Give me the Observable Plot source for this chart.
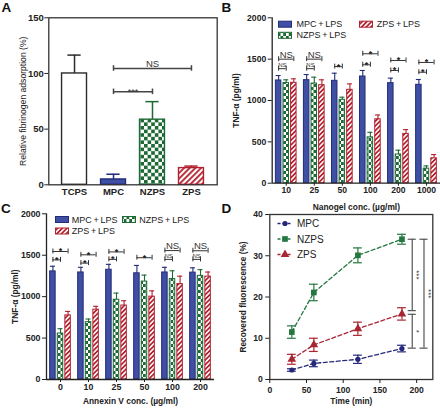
<!DOCTYPE html>
<html><head><meta charset="utf-8">
<script src="https://cdn.jsdelivr.net/npm/d3@7"></script>
<script src="https://cdn.jsdelivr.net/npm/@observablehq/plot@0.6"></script>
<style>
body{margin:0;background:#fff;}
#fig{position:relative;width:440px;height:409px;overflow:hidden;font-family:Arial,"Liberation Sans",sans-serif;background:#fff;}
</style></head><body>
<svg width="0" height="0" style="position:absolute;left:0;top:0"><defs>
<pattern id="checkA" patternUnits="userSpaceOnUse" width="7.2" height="7.2">
<rect width="7.2" height="7.2" fill="#fff"/><rect width="3.6" height="3.6" fill="#1d6a34"/><rect x="3.6" y="3.6" width="3.6" height="3.6" fill="#1d6a34"/>
</pattern>
<pattern id="checkS" patternUnits="userSpaceOnUse" width="5.5" height="6">
<rect width="5.5" height="6" fill="#fff"/><rect width="2.75" height="3" fill="#1d6a34"/><rect x="2.75" y="3" width="2.75" height="3" fill="#1d6a34"/>
</pattern>
<pattern id="hatchA" patternUnits="userSpaceOnUse" width="4" height="4" patternTransform="rotate(45)">
<rect width="4" height="4" fill="#fff"/><rect width="1.8" height="4" fill="#b3202f"/>
</pattern>
<pattern id="hatchS" patternUnits="userSpaceOnUse" width="3.3" height="3.3" patternTransform="rotate(45)">
<rect width="3.3" height="3.3" fill="#fff"/><rect width="1.7" height="3.3" fill="#b3202f"/>
</pattern>
</defs></svg>
<div id="fig"></div>
<script>
// ---------- Panel A data ----------
const aCats = ["TCPS", "MPC", "NZPS", "ZPS"];
const aMeans = [100, 4.8, 58.5, 15];
const aErrs = [16.5, 4.7, 16.2, 1.8];
const aTicks = [0, 50, 100, 150];
const aSig = [
  {from: "MPC", to: "ZPS", y: 104.5, label: "NS"},
  {from: "MPC", to: "NZPS", y: 83.5, label: "***"}
];
const aTitle = "Relative fibrinogen adsorption (%)";

// ---------- Panels B / C shared ----------
const series = ["MPC", "NZPS", "ZPS"];
const seriesLabels = ["MPC\u2009+\u2009LPS", "NZPS\u2009+\u2009LPS", "ZPS\u2009+\u2009LPS"];
const tnfTicks = [0, 500, 1000, 1500, 2000];

// ---------- Panel B data ----------
const bConcs = ["10", "25", "50", "100", "200", "1000"];
const bMPC = [1242, 1246, 1238, 1290, 1210, 1190];
const bMPCerr = [60, 68, 92, 73, 60, 64];
const bNZPS = [1212, 1205, 1008, 554, 347, 176];
const bNZPSerr = [38, 77, 32, 61, 52, 33];
const bZPS = [1214, 1185, 1129, 773, 596, 301];
const bZPSerr = [48, 65, 72, 52, 52, 45];
const bSig = [
  {c: "10", from: "MPC", to: "ZPS", y: 1500, label: "NS"},
  {c: "10", from: "MPC", to: "NZPS", y: 1385, label: "NS"},
  {c: "25", from: "MPC", to: "ZPS", y: 1500, label: "NS"},
  {c: "25", from: "MPC", to: "NZPS", y: 1385, label: "NS"},
  {c: "50", from: "MPC", to: "NZPS", y: 1410, label: "*"},
  {c: "100", from: "MPC", to: "ZPS", y: 1565, label: "*"},
  {c: "100", from: "MPC", to: "NZPS", y: 1432, label: "*"},
  {c: "200", from: "MPC", to: "ZPS", y: 1484, label: "*"},
  {c: "200", from: "MPC", to: "NZPS", y: 1363, label: "*"},
  {c: "1000", from: "MPC", to: "ZPS", y: 1460, label: "*"},
  {c: "1000", from: "MPC", to: "NZPS", y: 1342, label: "*"}
];

// ---------- Panel C data ----------
const cConcs = ["0", "10", "25", "50", "100", "200"];
const cMPC = [1305, 1292, 1325, 1282, 1292, 1290];
const cMPCerr = [62, 62, 65, 95, 62, 58];
const cNZPS = [555, 692, 963, 1182, 1212, 1251];
const cNZPSerr = [58, 38, 80, 78, 100, 75];
const cZPS = [774, 843, 893, 1000, 1152, 1242];
const cZPSerr = [48, 40, 58, 70, 95, 55];
const cSig = [
  {c: "0", from: "MPC", to: "ZPS", y: 1545, label: "*"},
  {c: "0", from: "MPC", to: "NZPS", y: 1444, label: "*"},
  {c: "10", from: "MPC", to: "ZPS", y: 1505, label: "*"},
  {c: "10", from: "MPC", to: "NZPS", y: 1405, label: "*"},
  {c: "25", from: "MPC", to: "ZPS", y: 1540, label: "*"},
  {c: "25", from: "MPC", to: "NZPS", y: 1450, label: "*"},
  {c: "50", from: "MPC", to: "ZPS", y: 1470, label: "*"},
  {c: "100", from: "MPC", to: "ZPS", y: 1556, label: "NS"},
  {c: "100", from: "MPC", to: "NZPS", y: 1450, label: "NS"},
  {c: "200", from: "MPC", to: "ZPS", y: 1554, label: "NS"},
  {c: "200", from: "MPC", to: "NZPS", y: 1450, label: "NS"}
];

// ---------- Panel D data ----------
const dSeries = ["MPC", "NZPS", "ZPS"];
const dTimes = [30, 60, 120, 180];
const dMPC = [2.3, 3.9, 4.9, 7.5];
const dMPCerr = [0.3, 0.8, 1.0, 0.8];
const dNZPS = [11.5, 21.1, 30.1, 34.0];
const dNZPSerr = [1.5, 2.0, 1.8, 1.2];
const dZPS = [4.9, 8.4, 12.3, 15.9];
const dZPSerr = [1.2, 1.6, 1.6, 1.5];
const dXTicks = [0, 50, 100, 150, 200];
const dYTicks = [0, 10, 20, 30, 40];
const dSig = [
  {x: 194, y1: 16.7, y2: 34.0, label: "***"},
  {x: 210, y1: 7.6, y2: 34.0, label: "***"},
  {x: 194, y1: 7.6, y2: 15.8, label: "*"}
];

// ---------- styles ----------
const FONT = 'Arial, "Liberation Sans", sans-serif';
const BLUE = "#3f4fa3", BLUE_D = "#222c78", GREEN = "#1d6a34", RED = "#b3202f", DARK = "#2b2b2b";
const dColor = {MPC: "#25287a", NZPS: "#23773f", ZPS: "#a82532"};
const dSymbol = {MPC: "circle", NZPS: "square", ZPS: "triangle"};
const baseStyle = {fontFamily: FONT, fontSize: "9px", background: "transparent", overflow: "visible", color: "#222"};
const intFmt = d3.format("d");
const fig = document.getElementById("fig");
function place(svg, left, top) {
  svg.style.position = "absolute"; svg.style.left = left + "px"; svg.style.top = top + "px";
  svg.style.maxWidth = "none";
  fig.appendChild(svg);
}
function yTitle(text, dx, opts = {}) {
  return Plot.text([text], {text: d => d, frameAnchor: "left", textAnchor: "middle", lineAnchor: "middle", rotate: -90, dx, ...opts});
}
function xTitle(text, dy, opts = {}) {
  return Plot.text([text], {text: d => d, frameAnchor: "bottom", textAnchor: "middle", lineAnchor: "middle", dy, ...opts});
}

// ---------- Panel A ----------
const aFill = {TCPS: "#fff", MPC: BLUE, NZPS: "url(#checkA)", ZPS: "url(#hatchA)"};
const aStroke = {TCPS: DARK, MPC: BLUE_D, NZPS: GREEN, ZPS: RED};
const aRows = aCats.map((c, i) => ({c, i, v: aMeans[i], e: aErrs[i]}));
const aSigRows = aSig.map(d => ({...d, i1: aCats.indexOf(d.from), i2: aCats.indexOf(d.to)}));
const aEnds = aSigRows.flatMap(d => [{x: d.i1, y: d.y}, {x: d.i2, y: d.y}]);
place(Plot.plot({
  width: 220, height: 200,
  marginLeft: 48.3, marginRight: 3.3, marginTop: 17.3, marginBottom: 15.7,
  style: baseStyle,
  x: {domain: [-0.66, 3.66]},
  y: {domain: [0, 150]},
  color: {type: "identity"},
  marks: [
    Plot.rect(aRows, {x1: d => d.i - 0.32, x2: d => d.i + 0.32, y1: 0, y2: "v",
      fill: d => aFill[d.c], stroke: d => aStroke[d.c], strokeWidth: 1.4}),
    Plot.ruleX(aRows, {x: "i", y1: "v", y2: d => d.v + d.e, stroke: d => aStroke[d.c], strokeWidth: 1.5}),
    Plot.ruleY(aRows, {x1: d => d.i - 0.17, x2: d => d.i + 0.17, y: d => d.v + d.e, stroke: d => aStroke[d.c], strokeWidth: 1.5}),
    Plot.ruleY(aSigRows, {x1: "i1", x2: "i2", y: "y", stroke: "#444", strokeWidth: 1.5}),
    Plot.ruleX(aEnds, {x: "x", y1: d => d.y - 2.5, y2: d => d.y + 2.5, stroke: "#444", strokeWidth: 1.5}),
    Plot.text(aSigRows.filter(d => d.label !== "NS"), {x: d => (d.i1 + d.i2) / 2, y: "y", text: "label", lineAnchor: "bottom", dy: 3.3, fontSize: 9, fill: "#333"}),
    Plot.text(aSigRows.filter(d => d.label === "NS"), {x: d => (d.i1 + d.i2) / 2, y: "y", text: "label", lineAnchor: "bottom", dy: -1.2, fontSize: 9.5, fill: "#333"}),
    Plot.frame({stroke: "#333", strokeWidth: 1.3}),
    Plot.axisY({ticks: aTicks, tickFormat: intFmt, tickSize: 4, tickPadding: 1, fontWeight: "bold", fontSize: 9.5, label: null}),
    Plot.axisX({ticks: aCats.map((c, i) => i), tickFormat: i => aCats[i], tickSize: 0, tickPadding: 3, fontWeight: "bold", fontSize: 9.5, label: null}),
    yTitle(aTitle, -25.8, {fontSize: 8.6})
  ]
}), 0, 0);

// ---------- Panels B / C ----------
const OFF = 0.271, HW = 0.098, CAP = 0.09;
const sFill = {MPC: BLUE, NZPS: "url(#checkS)", ZPS: "url(#hatchS)"};
const sStroke = {MPC: BLUE_D, NZPS: GREEN, ZPS: RED};
function grouped({concs, vals, errs, sig, w, h, ml, mr, mt, mb, yTitleDx, xTitleText, xTitleDy, tickFs}) {
  const rows = [];
  concs.forEach((c, g) => series.forEach((s, si) => rows.push({g, s, si, v: vals[si][g], e: errs[si][g]})));
  const xc = d => d.g + (d.si - 1) * OFF;
  const sr = sig.map(d => {
    const g = concs.indexOf(d.c);
    return {...d, x1: g + (series.indexOf(d.from) - 1) * OFF, x2: g + (series.indexOf(d.to) - 1) * OFF};
  });
  const ends = sr.flatMap(d => [{x: d.x1, y: d.y}, {x: d.x2, y: d.y}]);
  const small = d => d.label === "NS" && d.to === "NZPS";
  const mid = d => (d.x1 + d.x2) / 2;
  return Plot.plot({
    width: w, height: h, marginLeft: ml, marginRight: mr, marginTop: mt, marginBottom: mb,
    style: baseStyle,
    x: {domain: [-0.5, concs.length - 0.5]},
    y: {domain: [0, 2000]},
    color: {type: "identity"},
    marks: [
      Plot.rect(rows, {x1: d => xc(d) - HW, x2: d => xc(d) + HW, y1: 0, y2: "v",
        fill: d => sFill[d.s], stroke: d => sStroke[d.s], strokeWidth: 1}),
      Plot.ruleX(rows, {x: xc, y1: "v", y2: d => d.v + d.e, stroke: d => sStroke[d.s], strokeWidth: 1.1}),
      Plot.ruleY(rows, {x1: d => xc(d) - CAP, x2: d => xc(d) + CAP, y: d => d.v + d.e, stroke: d => sStroke[d.s], strokeWidth: 1.1}),
      Plot.ruleY(sr, {x1: "x1", x2: "x2", y: "y", stroke: "#333", strokeWidth: 1}),
      Plot.ruleX(ends, {x: "x", y1: d => d.y - 30, y2: d => d.y + 30, stroke: "#333", strokeWidth: 1}),
      Plot.text(sr.filter(d => d.label !== "NS"), {x: mid, y: "y", text: "label", lineAnchor: "bottom", dy: 3, fontSize: 9, fontWeight: "bold", fill: "#222"}),
      Plot.text(sr.filter(d => d.label === "NS" && !small(d)), {x: mid, y: "y", text: "label", lineAnchor: "bottom", dy: -1.6, fontSize: 9.5, fill: "#333"}),
      Plot.text(sr.filter(small), {x: mid, y: "y", text: "label", lineAnchor: "bottom", dy: -1.2, fontSize: 6, fill: "#333"}),
      Plot.ruleY([0], {stroke: "#222", strokeWidth: 1.3}),
      Plot.ruleX([-0.5], {stroke: "#222", strokeWidth: 1.3}),
      Plot.axisY({ticks: tnfTicks, tickFormat: intFmt, tickSize: 4, tickPadding: 2, fontWeight: "bold", fontSize: tickFs, label: null}),
      Plot.axisX({ticks: concs.map((c, i) => i), tickFormat: i => concs[i], tickSize: 3, tickPadding: 1, fontWeight: "bold", fontSize: tickFs, label: null}),
      yTitle("TNF-α (pg/ml)", yTitleDx, {fontSize: 8.4, fontWeight: "bold"}),
      xTitle(xTitleText, xTitleDy, {fontSize: 8.4, fontWeight: "bold"})
    ]
  });
}
place(grouped({concs: bConcs, vals: [bMPC, bNZPS, bZPS], errs: [bMPCerr, bNZPSerr, bZPSerr], sig: bSig,
  w: 220, h: 214, ml: 51.7, mr: 0, mt: 17.3, mb: 31.3, yTitleDx: -35.5,
  xTitleText: "Nanogel conc. (µg/ml)", xTitleDy: 24.3, tickFs: 8.6}), 220, 0);
place(grouped({concs: cConcs, vals: [cMPC, cNZPS, cZPS], errs: [cMPCerr, cNZPSerr, cZPSerr], sig: cSig,
  w: 220, h: 209, ml: 46, mr: 6, mt: 13.3, mb: 30, yTitleDx: -31,
  xTitleText: "Annexin V conc. (µg/ml)", xTitleDy: 22, tickFs: 8.8}), 0, 200);

// ---------- Panel D ----------
const dVals = [dMPC, dNZPS, dZPS], dErrs = [dMPCerr, dNZPSerr, dZPSerr];
const dMarks = dSeries.flatMap((s, si) => {
  const rows = dTimes.map((t, ti) => ({s, t, v: dVals[si][ti], e: dErrs[si][ti]}));
  const col = dColor[s];
  return [
    Plot.line(rows, {x: "t", y: "v", stroke: col, strokeWidth: 1.3, strokeDasharray: "4,2.5"}),
    Plot.ruleX(rows, {x: "t", y1: d => d.v - d.e, y2: d => d.v + d.e, stroke: col, strokeWidth: 1.2}),
    Plot.ruleY(rows, {x1: d => d.t - 6, x2: d => d.t + 6, y: d => d.v - d.e, stroke: col, strokeWidth: 1.2}),
    Plot.ruleY(rows, {x1: d => d.t - 6, x2: d => d.t + 6, y: d => d.v + d.e, stroke: col, strokeWidth: 1.2}),
    Plot.dot(rows, {x: "t", y: "v", symbol: dSymbol[s], r: s === "MPC" ? 2.6 : 3.2, fill: col, stroke: "none"})
  ];
});
place(Plot.plot({
  width: 220, height: 209, marginLeft: 49.3, marginRight: 7.7, marginTop: 14, marginBottom: 30,
  style: baseStyle,
  x: {domain: [0, 222]},
  y: {domain: [0, 40]},
  marks: [
    ...dMarks,
    Plot.ruleX(dSig, {x: "x", y1: "y1", y2: "y2", stroke: "#555", strokeWidth: 1.2}),
    Plot.ruleY(dSig, {x1: d => d.x - 5.5, x2: d => d.x + 5.5, y: "y1", stroke: "#555", strokeWidth: 1.2}),
    Plot.ruleY(dSig, {x1: d => d.x - 5.5, x2: d => d.x + 5.5, y: "y2", stroke: "#555", strokeWidth: 1.2}),
    Plot.text(dSig, {x: "x", y: d => (d.y1 + d.y2) / 2, text: "label", rotate: 90, dx: 4.5, fontSize: 8, fill: "#333"}),
    Plot.frame({stroke: "#333", strokeWidth: 1.3}),
    Plot.axisY({ticks: dYTicks, tickFormat: intFmt, tickSize: 4, tickPadding: 3, fontWeight: "bold", fontSize: 8.6, label: null}),
    Plot.axisX({ticks: dXTicks, tickFormat: intFmt, tickSize: 4, tickPadding: 3, fontWeight: "bold", fontSize: 8.6, label: null}),
    yTitle("Recovered fluorescence (%)", -26.8, {fontSize: 8.3, fontWeight: "bold"}),
    xTitle("Time (min)", 22, {fontSize: 8.4, fontWeight: "bold"})
  ]
}), 220, 200);

// ---------- Overlay: panel letters and legends ----------
const ov = d3.select(fig).append("svg")
  .attr("width", 440).attr("height", 409)
  .style("position", "absolute").style("left", "0px").style("top", "0px")
  .style("font-family", FONT).style("pointer-events", "none");
[["A", 1.5, 12], ["B", 221.5, 12], ["C", 1, 212.5], ["D", 221.5, 213]].forEach(([t, x, y]) =>
  ov.append("text").attr("x", x).attr("y", y).attr("font-size", 13.5).attr("font-weight", "bold").attr("fill", "#111").text(t));

function barLegend(items) {
  items.forEach(({s, x, y, tx}) => {
    const si = series.indexOf(s);
    ov.append("rect").attr("x", x).attr("y", y - 3).attr("width", 13).attr("height", 6)
      .attr("fill", sFill[s]).attr("stroke", sStroke[s]).attr("stroke-width", 1);
    ov.append("text").attr("x", tx).attr("y", y).attr("dy", "0.35em").attr("font-size", 9).attr("fill", "#222").text(seriesLabels[si]);
  });
}
barLegend([
  {s: "MPC", x: 278.5, y: 24.2, tx: 296.5},
  {s: "ZPS", x: 359.5, y: 24.2, tx: 376.7},
  {s: "NZPS", x: 278.5, y: 35.3, tx: 296.5}
]);
barLegend([
  {s: "MPC", x: 55.5, y: 219.5, tx: 71.7},
  {s: "NZPS", x: 122.5, y: 219.5, tx: 139.3},
  {s: "ZPS", x: 55.5, y: 231, tx: 71.7}
]);
const dLegY = [223.5, 239, 254.5];
dSeries.forEach((s, i) => {
  const y = dLegY[i], col = dColor[s];
  ov.append("line").attr("x1", 277.5).attr("x2", 292.5).attr("y1", y).attr("y2", y)
    .attr("stroke", col).attr("stroke-width", 1.3).attr("stroke-dasharray", "3,2");
  const sym = d3.symbol().type(s === "MPC" ? d3.symbolCircle : s === "NZPS" ? d3.symbolSquare : d3.symbolTriangle)
    .size(s === "MPC" ? Math.PI * 2.6 * 2.6 : Math.PI * 3.2 * 3.2);
  ov.append("path").attr("d", sym()).attr("transform", `translate(285,${y})`).attr("fill", col);
  ov.append("text").attr("x", 297).attr("y", y).attr("dy", "0.35em").attr("font-size", 10).attr("fill", "#222").text(s);
});
</script>
</body></html>
